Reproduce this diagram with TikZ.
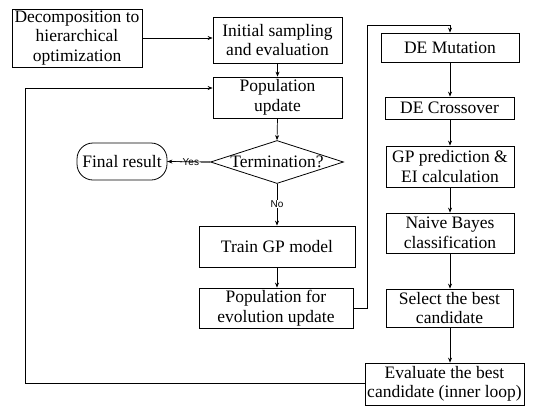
\documentclass[tikz,border=0pt]{standalone}
\usepackage{fontspec}
\setmainfont{Liberation Serif}
\newfontfamily\lblfont{Liberation Sans}
\usetikzlibrary{shapes.geometric,arrows.meta,calc}
\tikzset{
  box/.style={draw, line width=0.8pt, inner sep=0pt, align=center, font=\fontsize{17.5}{19.5}\selectfont},
  conn/.style={line width=0.7pt, -{Stealth[length=5pt,width=4pt]}},
  plain/.style={line width=0.7pt},
  lbl/.style={font=\lblfont\fontsize{10}{12}\selectfont, fill=white, inner sep=1pt}
}
\begin{document}
\begin{tikzpicture}[x=1pt,y=-1pt]
\useasboundingbox (0,0) rectangle (537,407);
\node[box, minimum width=130, minimum height=58] (decomp) at (77,38) {Decomposition to\\hierarchical\\optimization};
\node[box, minimum width=129, minimum height=46] (init) at (277.5,40) {Initial sampling\\and evaluation};
\node[box, minimum width=129, minimum height=41] (popup) at (277.5,97.5) {Population\\update};
\node[draw, line width=0.8pt, diamond, aspect=3.1, minimum width=133, minimum height=43, inner sep=0pt] (term) at (277,162) {};
\node[font=\fontsize{17.5}{19.5}\selectfont] (termtxt) at (term.center) {Termination?};
\node[box, minimum width=90, minimum height=37, rounded corners=16pt] (final) at (122,161.5) {Final result};
\node[box, minimum width=156, minimum height=41] (train) at (277,246.5) {Train GP model};
\node[box, minimum width=154, minimum height=40] (popevo) at (276,308) {Population for\\evolution update};
\node[box, minimum width=138, minimum height=29] (demut) at (450,47.5) {DE Mutation};
\node[box, minimum width=129, minimum height=22] (decross) at (449.5,108) {DE Crossover};
\node[box, minimum width=128, minimum height=41] (gppred) at (450,166.5) {GP prediction \&\\EI calculation};
\node[box, minimum width=128, minimum height=40] (nb) at (450,233) {Naive Bayes\\classification};
\node[box, minimum width=127, minimum height=38] (select) at (449.5,308) {Select the best\\candidate};
\node[box, minimum width=159, minimum height=42] (eval) at (444.5,384) {Evaluate the best\\candidate (inner loop)};

\coordinate (d1) at (142,38);
\draw[conn] (d1) -- (d1 -| init.west);
\draw[conn] (init.south) -- (popup.north);
\draw[conn] (popup.south) -- (term.north);
\draw[plain] (term.west) -- node[lbl, pos=0.45] {Yes} (final.east);
\draw[conn] (term.west) -- (final.east);
\draw[plain] (term.south) -- (277,210);
\node[lbl] at (277,204) {No};
\draw[conn] (277,210) -- (train.north);
\draw[conn] (train.south) -- (train.south |- popevo.north);

\coordinate (e1) at (367,308);
\coordinate (e2) at (367,25);
\coordinate (e3) at (450,25);
\draw[conn] (popevo.east) -- (e1) -- (e2) -- (e3) -- (demut.north);
\draw[conn] (demut.south -| 450,0) -- (decross.north -| 450,0);
\draw[conn] (decross.south -| 450,0) -- (gppred.north -| 450,0);
\draw[conn] (gppred.south -| 450,0) -- (nb.north -| 450,0);
\draw[conn] (nb.south -| 450,0) -- (select.north -| 450,0);
\draw[conn] (select.south -| 450,0) -- (eval.north -| 450,0);

\coordinate (f1) at (25,383);
\coordinate (f2) at (25,88);
\draw[conn] (eval.west |- f1) -- (f1) -- (f2) -- (f2 -| popup.west);
\end{tikzpicture}
\end{document}
